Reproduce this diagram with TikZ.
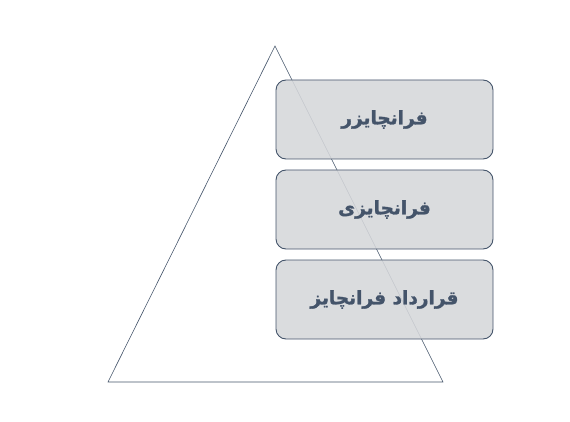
\documentclass[tikz,border=0pt]{standalone}
\usepackage{fontspec}
\newfontfamily\arabicfont[Script=Arabic,UprightFont={* Bold},FakeBold=1.5]{DejaVu Sans}
\TeXXeTstate=1
\definecolor{slate}{RGB}{68,84,106}
\definecolor{boxgray}{RGB}{213,215,218}

\begin{document}
\begin{tikzpicture}
  [x=1pt,y=-1pt,every node/.style={draw=slate,fill=boxgray,fill opacity=.88,text opacity=1,rounded corners=10pt,minimum width=217pt,minimum height=79pt,line width=.9pt,text=slate,font=\arabicfont\fontsize{18.5}{22}\selectfont}]
  \useasboundingbox (0,0) rectangle (570,422);

  \coordinate (apex) at (275,46);
  \coordinate (bl) at (108,382);
  \coordinate (br) at (443,382);
  \draw[slate,line width=.6pt] (apex) -- (br) -- (bl) -- cycle;

  \node (n1) at (384.5,119.5) {\beginR فرانچایزر\endR};
  \node (n2) at (384.5,209.5) {\beginR فرانچایزی\endR};
  \node (n3) at (384.5,299.5) {\beginR قرارداد فرانچایز\endR};
\end{tikzpicture}
\end{document}
